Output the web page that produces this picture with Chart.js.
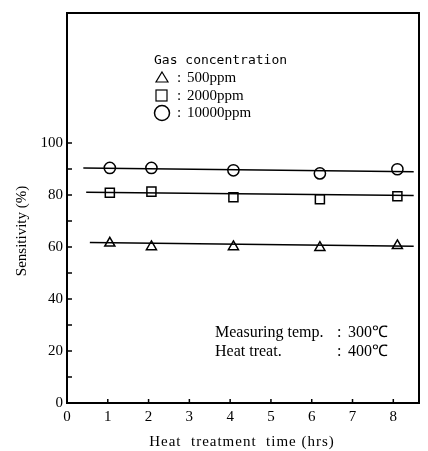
<!DOCTYPE html>
<html>
<head>
<meta charset="utf-8">
<style>
  html, body { margin: 0; padding: 0; background: #fff; }
  #wrap { width: 428px; height: 451px; }
</style>
<script src="https://cdn.jsdelivr.net/npm/chart.js@4/dist/chart.umd.min.js"></script>
</head>
<body>
<div id="wrap"><canvas id="sensitivity-chart" width="428" height="451"></canvas></div>
<script>
// heat treatment time (hrs) of each measurement
var hours = [1.05, 2.07, 4.08, 6.2, 8.1];

// sensitivity (%) per gas concentration
var ppm500 = [61.5, 60.1, 60.1, 59.8, 60.5];
var ppm2000 = [80.9, 81.3, 79.1, 78.4, 79.5];
var ppm10000 = [90.4, 90.4, 89.5, 88.3, 89.9];

// drawn trend lines: x range and end values
var fitHours500 = [0.56, 8.5];
var fit500 = [61.7, 60.3];
var fitHours2000 = [0.47, 8.5];
var fit2000 = [81.1, 79.8];
var fitHours10000 = [0.4, 8.5];
var fit10000 = [90.4, 88.9];

var xTicks = [0, 1, 2, 3, 4, 5, 6, 7, 8];
var yTicks = [0, 20, 40, 60, 80, 100];
var yMinorTicks = [10, 30, 50, 70, 90];

function points(xs, ys) {
  return xs.map(function (x, i) { return { x: x, y: ys[i] }; });
}

var serif = '"Liberation Serif", "Times New Roman", serif';

/**
 * Frame, inward ticks and text annotations.
 */
var paperPlugin = {
  id: 'paper',
  afterDraw: function (chart) {
    var ctx = chart.ctx;
    var area = chart.chartArea;
    var xs = chart.scales.x;
    var ys = chart.scales.y;
    ctx.save();
    ctx.strokeStyle = '#000';
    ctx.fillStyle = '#000';

    // top and right border
    ctx.lineWidth = 2;
    ctx.beginPath();
    ctx.moveTo(area.left, area.top);
    ctx.lineTo(area.right, area.top);
    ctx.lineTo(area.right, area.bottom);
    ctx.stroke();

    // inward tick marks
    ctx.lineWidth = 1.5;
    ctx.beginPath();
    xTicks.forEach(function (v) {
      if (v === 0) return;
      var px = xs.getPixelForValue(v);
      ctx.moveTo(px, area.bottom);
      ctx.lineTo(px, area.bottom - 4);
    });
    yTicks.concat(yMinorTicks).forEach(function (v) {
      if (v === 0) return;
      var py = ys.getPixelForValue(v);
      ctx.moveTo(area.left, py);
      ctx.lineTo(area.left + 5, py);
    });
    ctx.stroke();

    // axis titles
    ctx.font = '15px ' + serif;
    ctx.textAlign = 'center';
    ctx.textBaseline = 'middle';
    ctx.letterSpacing = '1px';
    ctx.fillText('Heat  treatment  time (hrs)', 242, 442);
    ctx.save();
    ctx.translate(22, 231);
    ctx.rotate(-Math.PI / 2);
    ctx.letterSpacing = '0px';
    ctx.fillText('Sensitivity (%)', 0, 0);
    ctx.restore();
    ctx.letterSpacing = '0px';

    // legend block
    ctx.textAlign = 'left';
    ctx.font = '13px "DejaVu Sans Mono", monospace';
    ctx.fillText('Gas concentration', 154, 61);
    ctx.font = '15px ' + serif;
    var rows = [['500ppm', 78], ['2000ppm', 96], ['10000ppm', 113]];
    rows.forEach(function (r) {
      ctx.fillText(':', 177, r[1]);
      ctx.fillText(r[0], 187, r[1]);
    });
    ctx.lineWidth = 1.2;
    // triangle
    ctx.beginPath();
    ctx.moveTo(162, 72);
    ctx.lineTo(168, 82);
    ctx.lineTo(156, 82);
    ctx.closePath();
    ctx.stroke();
    // square
    ctx.strokeRect(156, 90, 11, 11);
    // circle
    ctx.lineWidth = 1.5;
    ctx.beginPath();
    ctx.arc(162, 113, 7.5, 0, Math.PI * 2);
    ctx.stroke();

    // measuring conditions
    ctx.font = '16px ' + serif;
    ctx.fillText('Measuring temp.', 215, 333);
    ctx.fillText('Heat treat.', 215, 352);
    ctx.fillText(':', 337, 333);
    ctx.fillText(':', 337, 352);
    ctx.fillText('300\u2103', 348, 333);
    ctx.fillText('400\u2103', 348, 352);

    ctx.restore();
  }
};

var markerStyle = {
  showLine: false,
  pointBackgroundColor: '#fff',
  pointBorderColor: '#000',
  pointBorderWidth: 1.5
};

function fitLine(xs, ys) {
  return {
    type: 'line',
    data: points(xs, ys),
    borderColor: '#000',
    borderWidth: 1.5,
    pointRadius: 0,
    fill: false
  };
}

var ctx = document.getElementById('sensitivity-chart').getContext('2d');

var sensitivityChart = new Chart(ctx, {
  type: 'scatter',
  data: {
    datasets: [
      fitLine(fitHours10000, fit10000),
      fitLine(fitHours2000, fit2000),
      fitLine(fitHours500, fit500),
      Object.assign({ label: '500ppm', data: points(hours, ppm500), pointStyle: 'triangle', pointRadius: 5.8 }, markerStyle),
      Object.assign({ label: '2000ppm', data: points(hours, ppm2000), pointStyle: 'rect', pointRadius: 6.4 }, markerStyle),
      Object.assign({ label: '10000ppm', data: points(hours, ppm10000), pointStyle: 'circle', pointRadius: 5.6 }, markerStyle)
    ]
  },
  options: {
    responsive: false,
    animation: false,
    layout: { padding: { top: 7, right: 9, left: 0, bottom: 0 } },
    plugins: {
      legend: { display: false },
      tooltip: { enabled: false }
    },
    scales: {
      x: {
        type: 'linear',
        min: 0,
        max: 8.63,
        afterFit: function (s) { s.height = 48; },
        afterBuildTicks: function (s) {
          s.ticks = xTicks.map(function (v) { return { value: v }; });
        },
        grid: { display: false, drawTicks: false },
        border: { display: true, color: '#000', width: 2 },
        ticks: {
          color: '#000',
          padding: 5,
          maxRotation: 0,
          autoSkip: false,
          font: { family: serif, size: 15 }
        }
      },
      y: {
        type: 'linear',
        min: 0,
        max: 150,
        afterFit: function (s) { s.width = 67; },
        afterBuildTicks: function (s) {
          s.ticks = yTicks.map(function (v) { return { value: v }; });
        },
        grid: { display: false, drawTicks: false },
        border: { display: true, color: '#000', width: 2 },
        ticks: {
          color: '#000',
          padding: 4,
          autoSkip: false,
          font: { family: serif, size: 15 }
        }
      }
    }
  },
  plugins: [paperPlugin]
});
</script>
</body>
</html>
